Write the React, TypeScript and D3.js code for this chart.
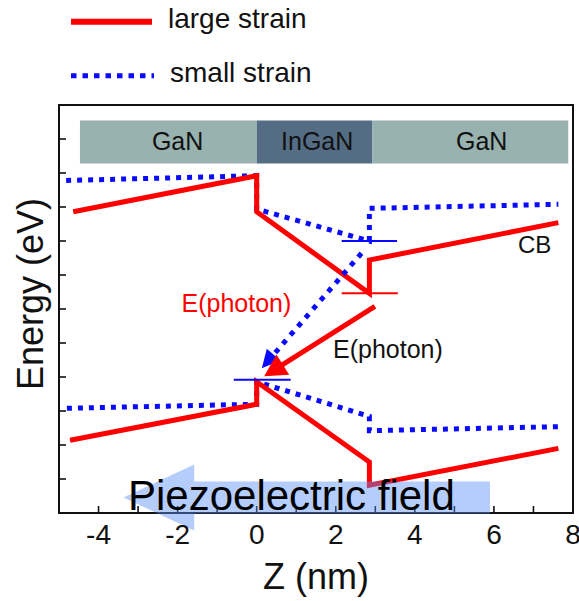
import React from 'react';
import * as d3 from 'd3';

// Band-edge profiles across the GaN / InGaN / GaN well (z in nm, energy in eV)
const cbLargeZ = [-4.64, 0, 0, 2.85, 2.85, 7.63];
const cbLargeE = [4.43, 4.96, 4.43, 3.23, 3.72, 4.27];
const cbSmallZ = [-4.82, 0, 0, 2.85, 2.85, 7.63];
const cbSmallE = [4.89, 4.96, 4.47, 4.0, 4.48, 4.54];
const vbLargeZ = [-4.72, 0, 0, 2.85, 2.85, 7.63];
const vbLargeE = [1.07, 1.6, 1.93, 0.75, 0.41, 0.95];
const vbSmallZ = [-4.8, 0, 0, 2.85, 2.85, 7.63];
const vbSmallE = [1.54, 1.6, 1.93, 1.42, 1.21, 1.27];

// Confined level markers: [zStart, zEnd, energy]
const levelSmallCB = [2.15, 3.55, 4.0];
const levelLargeCB = [2.15, 3.57, 3.23];
const levelSmallVB = [-0.58, 0.86, 1.96];

// Photon transitions: [zFrom, eFrom, zTo, eTo]
const photonSmall = [2.65, 3.82, 0.13, 2.13];
const photonLarge = [2.99, 3.04, 0.19, 2.01];

// Layer stack
const layerNames = ['GaN', 'InGaN', 'GaN'];
const layerStart = [-4.47, 0, 2.92];
const layerEnd = [0, 2.92, 7.88];
const layerLabelZ = [-2.0, 1.53, 5.69];

const zDomain = [-5, 8];
const eDomain = [0, 6];
const zTickLabels = [-4, -2, 0, 2, 4, 6, 8];

const FONT = "'Liberation Sans', Arial, Helvetica, sans-serif";
const RED = '#ff0000';
const BLUE = '#0a0aff';

const x = d3.scaleLinear().domain(zDomain).range([59, 573]);
const y = d3.scaleLinear().domain(eDomain).range([513, 105]);
const line = d3
  .line<[number, number]>()
  .x((d) => x(d[0]))
  .y((d) => y(d[1]));

const pts = (zs: number[], es: number[]): [number, number][] =>
  zs.map((z, i) => [z, es[i]] as [number, number]);

function arrowGeom(t: number[], headLen: number, headHalf: number) {
  const x0 = x(t[0]);
  const y0 = y(t[1]);
  const x1 = x(t[2]);
  const y1 = y(t[3]);
  const len = Math.hypot(x1 - x0, y1 - y0);
  const ux = (x1 - x0) / len;
  const uy = (y1 - y0) / len;
  const nx = -uy;
  const ny = ux;
  const bx = x1 - ux * headLen;
  const by = y1 - uy * headLen;
  const head = [
    [x1, y1],
    [bx + nx * headHalf, by + ny * headHalf],
    [bx - nx * headHalf, by - ny * headHalf],
  ]
    .map((p) => p.join(','))
    .join(' ');
  return {
    x0,
    y0,
    lx: x1 - ux * headLen * 0.8,
    ly: y1 - uy * headLen * 0.8,
    head,
  };
}

export default function App() {
  const zMinor = d3.range(-4, 8, 1);
  const eMinor = d3.range(0.5, 6, 0.5);

  const aSmall = arrowGeom(photonSmall, 18, 9);
  const aLarge = arrowGeom(photonLarge, 22, 12);

  // Piezoelectric field arrow (points toward -z)
  const yc = 497.5;
  const tipX = x(-3.37);
  const baseX = x(-1.58);
  const tailX = x(5.9);
  const piezo = [
    [tipX, yc],
    [baseX, yc - 33],
    [baseX, yc - 16],
    [tailX, yc - 16],
    [tailX, yc + 16],
    [baseX, yc + 16],
    [baseX, yc + 33],
  ]
    .map((p) => p.join(','))
    .join(' ');

  const barTop = 120.5;
  const barBottom = 163.5;

  return (
    <svg
      width={579}
      height={601}
      style={{ position: 'absolute', left: 0, top: 0, display: 'block', background: '#fff' }}
      fontFamily={FONT}
    >
      {/* legend */}
      <line x1={71} x2={152} y1={21.7} y2={21.7} stroke={RED} strokeWidth={6} />
      <text x={168} y={28} fontSize={28} fill="#111">
        large strain
      </text>
      <line
        x1={71}
        x2={154}
        y1={75.7}
        y2={75.7}
        stroke={BLUE}
        strokeWidth={5}
        strokeDasharray="5.5,6"
      />
      <text x={170} y={82} fontSize={28} fill="#111">
        small strain
      </text>

      {/* layer stack */}
      {layerNames.map((name, i) => (
        <g key={i}>
          <rect
            x={x(layerStart[i])}
            y={barTop}
            width={x(layerEnd[i]) - x(layerStart[i])}
            height={barBottom - barTop}
            fill={name === 'InGaN' ? '#546d84' : '#98b2b0'}
          />
          <text
            x={x(layerLabelZ[i])}
            y={149.5}
            fontSize={25}
            textAnchor="middle"
            fill="#111"
          >
            {name}
          </text>
        </g>
      ))}

      {/* band edges */}
      <path d={line(pts(cbSmallZ, cbSmallE)) || ''} fill="none" stroke={BLUE} strokeWidth={5} strokeDasharray="5,6" />
      <path d={line(pts(vbSmallZ, vbSmallE)) || ''} fill="none" stroke={BLUE} strokeWidth={5} strokeDasharray="5,6" />
      <path d={line(pts(cbLargeZ, cbLargeE)) || ''} fill="none" stroke={RED} strokeWidth={5} strokeLinejoin="miter" />
      <path d={line(pts(vbLargeZ, vbLargeE)) || ''} fill="none" stroke={RED} strokeWidth={5} strokeLinejoin="miter" />

      {/* confined levels */}
      <line x1={x(levelSmallCB[0])} x2={x(levelSmallCB[1])} y1={y(levelSmallCB[2])} y2={y(levelSmallCB[2])} stroke={BLUE} strokeWidth={2} />
      <line x1={x(levelLargeCB[0])} x2={x(levelLargeCB[1])} y1={y(levelLargeCB[2])} y2={y(levelLargeCB[2])} stroke={RED} strokeWidth={2} />
      <line x1={x(levelSmallVB[0])} x2={x(levelSmallVB[1])} y1={y(levelSmallVB[2])} y2={y(levelSmallVB[2])} stroke={BLUE} strokeWidth={2} />

      {/* photon transitions */}
      <line x1={aSmall.x0} y1={aSmall.y0} x2={aSmall.lx} y2={aSmall.ly} stroke={BLUE} strokeWidth={5} strokeDasharray="5,6.5" />
      <polygon points={aSmall.head} fill={BLUE} />
      <line x1={aLarge.x0} y1={aLarge.y0} x2={aLarge.lx} y2={aLarge.ly} stroke={RED} strokeWidth={5} />
      <polygon points={aLarge.head} fill={RED} />

      <text x={181.5} y={311.5} fontSize={25} fill={RED}>
        E(photon)
      </text>
      <text x={333} y={358} fontSize={25} fill="#111">
        E(photon)
      </text>
      <text x={518} y={253} fontSize={24} fill="#111">
        CB
      </text>

      {/* axes frame and ticks */}
      <rect x={59} y={105} width={573 - 59} height={513 - 105} fill="none" stroke="#111" strokeWidth={2} />
      {zMinor.map((z) => (
        <line key={'zt' + z} x1={x(z)} x2={x(z)} y1={513} y2={506} stroke="#111" strokeWidth={1.6} />
      ))}
      {eMinor.map((e) => (
        <line key={'et' + e} x1={59} x2={66} y1={y(e)} y2={y(e)} stroke="#111" strokeWidth={1.6} />
      ))}

      {/* piezoelectric field */}
      <polygon points={piezo} fill="rgb(88,144,244)" fillOpacity={0.45} />
      <text x={128} y={510} fontSize={42} fill="#000">
        Piezoelectric field
      </text>

      {zTickLabels.map((z) => (
        <text key={'zl' + z} x={x(z)} y={544} fontSize={28} textAnchor="middle" fill="#111">
          {z}
        </text>
      ))}
      <text x={316} y={589} fontSize={36} textAnchor="middle" fill="#111">
        Z (nm)
      </text>
      <text
        transform="translate(43,294) rotate(-90)"
        fontSize={36}
        textAnchor="middle"
        fill="#111"
      >
        Energy (eV)
      </text>
    </svg>
  );
}
